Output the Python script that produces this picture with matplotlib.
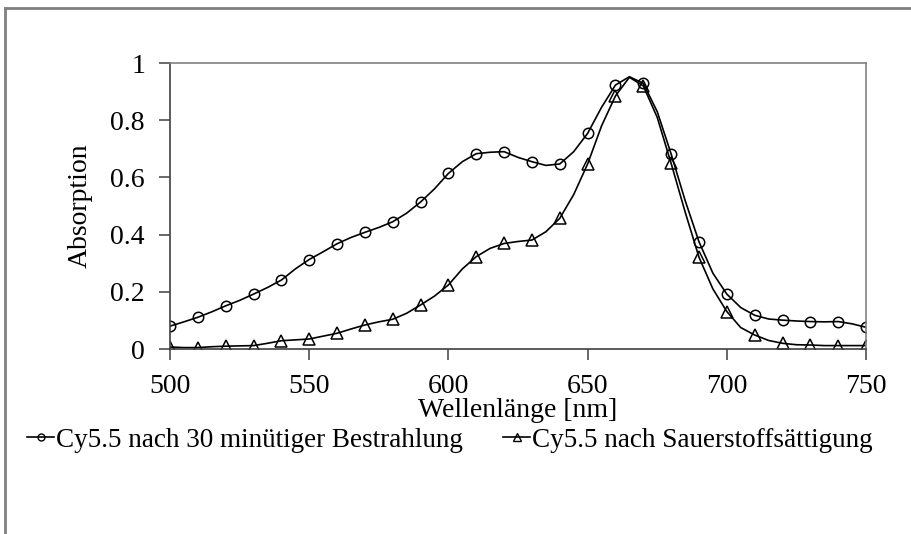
import matplotlib.pyplot as plt
from matplotlib.lines import Line2D

# Wellenlaenge in 5 nm Schritten (Marker jede 10 nm)
wavelength = [500, 505, 510, 515, 520, 525, 530, 535, 540, 545, 550, 555, 560,
              565, 570, 575, 580, 585, 590, 595, 600, 605, 610, 615, 620, 625,
              630, 635, 640, 645, 650, 655, 660, 665, 670, 675, 680, 685, 690,
              695, 700, 705, 710, 715, 720, 725, 730, 735, 740, 745, 750]

bestrahlung = [0.080, 0.095, 0.111, 0.130, 0.151, 0.170, 0.192, 0.215, 0.241,
               0.280, 0.313, 0.340, 0.368, 0.390, 0.408, 0.425, 0.445, 0.475,
               0.514, 0.560, 0.614, 0.655, 0.683, 0.688, 0.690, 0.670, 0.655,
               0.642, 0.647, 0.690, 0.754, 0.845, 0.923, 0.952, 0.929, 0.830,
               0.682, 0.520, 0.375, 0.265, 0.192, 0.145, 0.118, 0.105, 0.101,
               0.098, 0.096, 0.095, 0.096, 0.088, 0.076]

sauerstoff = [0.007, 0.005, 0.005, 0.008, 0.010, 0.011, 0.012, 0.020, 0.029,
              0.032, 0.035, 0.045, 0.055, 0.070, 0.084, 0.095, 0.104, 0.125,
              0.154, 0.185, 0.224, 0.280, 0.323, 0.352, 0.369, 0.376, 0.381,
              0.410, 0.457, 0.540, 0.647, 0.780, 0.885, 0.950, 0.920, 0.810,
              0.649, 0.480, 0.321, 0.210, 0.131, 0.075, 0.049, 0.030, 0.020,
              0.015, 0.014, 0.012, 0.012, 0.012, 0.012]

labels = ["Cy5.5 nach 30 minütiger Bestrahlung", "Cy5.5 nach Sauerstoffsättigung"]

plt.rcParams["font.family"] = ["Liberation Serif", "DejaVu Serif"]

fig = plt.figure(figsize=(9.12, 5.34), dpi=100)
ax = fig.add_axes([0.1864, 0.3464, 0.7632, 0.5356])

ax.plot(wavelength, bestrahlung, color="black", lw=1.2, marker="o", markevery=2,
        markersize=7.5, markerfacecolor="none", markeredgecolor="black", markeredgewidth=1.1)
ax.plot(wavelength, sauerstoff, color="black", lw=1.2, marker="^", markevery=2,
        markersize=9, markerfacecolor="none", markeredgecolor="black", markeredgewidth=1.1)

ax.set_xlim(500, 750)
ax.set_ylim(0, 1)
ax.set_xticks([500, 550, 600, 650, 700, 750])
ax.set_yticks([0, 0.2, 0.4, 0.6, 0.8, 1])
ax.set_yticklabels(["0", "0.2", "0.4", "0.6", "0.8", "1"])

for side in ["top", "right"]:
    ax.spines[side].set_color("#808080")
    ax.spines[side].set_linewidth(1.2)
for side in ["left", "bottom"]:
    ax.spines[side].set_color("#404040")
    ax.spines[side].set_linewidth(1.2)

ax.tick_params(axis="both", direction="out", length=8, width=1.1, color="#404040", labelsize=20)
ax.tick_params(axis="y", pad=10)
ax.tick_params(axis="x", pad=10)

ax.set_xlabel("Wellenlänge [nm]", fontsize=20, labelpad=-1)
ax.set_ylabel("Absorption", fontsize=20, labelpad=13)

handles = [
    Line2D([], [], color="black", lw=1.2, marker="o", markersize=5,
           markerfacecolor="none", markeredgewidth=1.0),
    Line2D([], [], color="black", lw=1.2, marker="^", markersize=6,
           markerfacecolor="none", markeredgewidth=1.0),
]
fig.legend(handles, labels, loc="center left", bbox_to_anchor=(0.018, 0.176), ncol=2,
           frameon=False, fontsize=19.5, handlelength=1.0, handletextpad=0.05,
           columnspacing=1.5, borderaxespad=0)

# Rahmen oben und links
fig.add_artist(Line2D([0.005, 1.0], [0.985, 0.985], color="#808080", lw=2))
fig.add_artist(Line2D([0.005, 0.005], [0.0, 0.985], color="#808080", lw=2))

fig.savefig("out.png", dpi=100)
